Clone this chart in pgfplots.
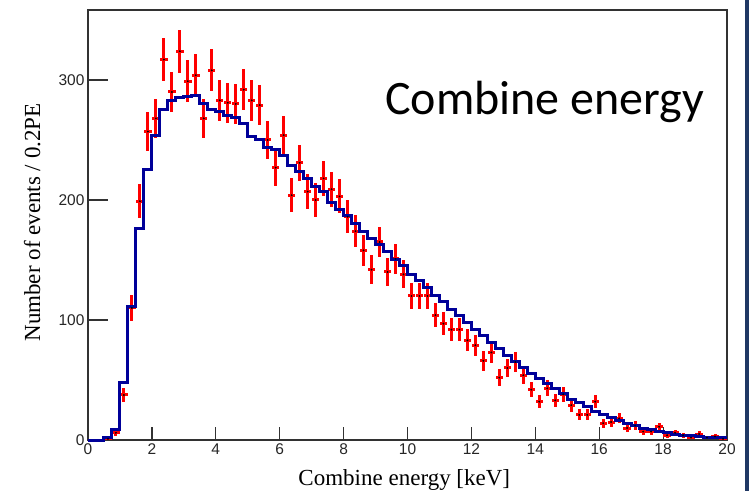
\documentclass[border=0pt]{standalone}
\usepackage{fontspec}
\setmainfont{Liberation Serif}
\newfontfamily\arialf{Liberation Sans}
\newfontfamily\calibri{Carlito}
\usepackage{pgfplots}
\usepackage{pgfplotstable}
\pgfplotsset{compat=1.18}
\definecolor{histblue}{RGB}{0,0,153}
\definecolor{slideblue}{RGB}{32,56,100}
\definecolor{framegray}{RGB}{50,50,50}

\pgfplotstableread{
x y
0 0
0.25 0
0.5 2
0.75 9
1.0 48
1.25 111
1.5 176
1.75 225
2.0 254
2.25 275
2.5 283
2.75 285
3.0 286
3.25 287
3.5 280
3.75 275
4.0 274
4.25 270
4.5 269
4.75 264
5.0 253
5.25 250
5.5 244
5.75 242
6.0 237
6.25 229
6.5 224
6.75 218
7.0 211
7.25 207
7.5 198
7.75 192
8.0 187
8.25 180
8.5 174
8.75 168
9.0 163
9.25 157
9.5 150
9.75 145
10.0 138
10.25 133
10.5 127
10.75 120
11.0 115
11.25 109
11.5 104
11.75 98
12.0 92
12.25 87
12.5 81
12.75 76
13.0 70
13.25 65
13.5 60
13.75 55
14.0 51
14.25 47
14.5 43
14.75 39
15.0 34
15.25 31
15.5 28
15.75 24
16.0 21
16.25 19
16.5 16
16.75 14
17.0 12
17.25 10
17.5 9
17.75 7
18.0 6
18.25 5
18.5 4
18.75 4
19.0 3
19.25 2
19.5 2
19.75 2
20.0 2
}\histtable

\pgfplotstableread{
x y ey
0.625 1 1.0
0.875 6 2.4
1.125 37.5 6.1
1.375 110 10.5
1.625 199 14.1
1.875 257 16.0
2.125 268 16.4
2.375 317 17.8
2.625 290 17.0
2.875 324 18.0
3.125 299 17.3
3.375 304 17.4
3.625 268 16.4
3.875 308 17.5
4.125 283 16.8
4.375 281 16.8
4.625 280 16.7
4.875 292 17.1
5.125 283 16.8
5.375 279 16.7
5.625 250 15.8
5.875 227 15.1
6.125 254 15.9
6.375 204 14.3
6.625 231 15.2
6.875 207 14.4
7.125 200 14.1
7.375 218 14.8
7.625 209 14.5
7.875 203 14.2
8.125 186 13.6
8.375 174 13.2
8.625 158 12.6
8.875 142 11.9
9.125 165 12.8
9.375 140 11.8
9.625 151 12.3
9.875 138 11.7
10.125 120 11.0
10.375 120 11.0
10.625 120 11.0
10.875 104 10.2
11.125 97 9.8
11.375 92 9.6
11.625 92 9.6
11.875 83 9.1
12.125 79 8.9
12.375 66 8.1
12.625 73 8.5
12.875 52 7.2
13.125 60 7.7
13.375 65 8.1
13.625 54 7.3
13.875 42 6.5
14.125 32 5.7
14.375 43 6.6
14.625 33 5.7
14.875 38 6.2
15.125 29 5.4
15.375 21 4.6
15.625 21 4.6
15.875 32 5.7
16.125 14 3.7
16.375 15 3.9
16.625 18 4.2
16.875 10 3.2
17.125 12 3.5
17.375 7 2.6
17.625 7 2.6
17.875 11 3.3
18.125 4 2.0
18.375 6 2.4
18.625 4 2.0
18.875 2 1.4
19.125 5 2.2
19.375 2 1.4
19.625 3 1.7
19.875 1 1.0
}\datatable

\begin{document}
\begin{tikzpicture}
\path[use as bounding box] (0pt,0pt) rectangle (749pt,491pt);
\begin{axis}[
  at={(88pt,51pt)}, anchor=south west,
  scale only axis, width=639pt, height=430pt,
  xmin=0, xmax=20, ymin=0, ymax=358.3,
  axis line style={framegray, line width=1.2pt},
  xtick=\empty, ytick={0,100,200,300},
  ytick pos=left, tick align=inside,
  major tick length=20pt,
  every tick/.style={framegray, line width=1.2pt},
  /pgf/number format/assume math mode=true,
  tick label style={font=\arialf\fontsize{15.5}{17}\selectfont, text=black!85},
]
\end{axis}
\begin{axis}[
  at={(88pt,51pt)}, anchor=south west,
  scale only axis, width=639pt, height=430pt,
  xmin=0, xmax=20, ymin=0, ymax=358.3,
  clip=false,
  axis line style={framegray, line width=1.2pt},
  xtick={0,2,...,20}, ytick=\empty,
  xtick pos=left, tick align=inside,
  major tick length=13pt,
  every tick/.style={framegray, line width=1.2pt},
  /pgf/number format/assume math mode=true,
  tick label style={font=\arialf\fontsize{15.5}{17}\selectfont, text=black!85},
  xlabel={Combine energy [keV]},
  xlabel style={at={(axis description cs:0.495,-0.1047)}, anchor=base, font=\fontsize{23}{26}\selectfont},
  ylabel={Number of events / 0.2PE},
  ylabel style={at={(axis description cs:-0.0751,0.506)}, anchor=base, rotate=0, font=\fontsize{23}{26}\selectfont},
]
\addplot[only marks, mark=*, mark size=0.7pt, black,
  error bars/.cd, y dir=both, y explicit, x dir=both, x fixed=0.115,
  error mark=none, error bar style={red, line width=3pt}]
  table[x=x, y=y, y error=ey] {\datatable};
\addplot[const plot, histblue, line width=3pt] table[x=x, y=y] {\histtable};
\end{axis}
\node[anchor=base west, inner sep=0pt] at (385pt,376pt) {\calibri\fontsize{48}{52}\selectfont Combine energy};
\fill[slideblue] (745pt,0pt) rectangle (749pt,491pt);
\end{tikzpicture}
\end{document}
